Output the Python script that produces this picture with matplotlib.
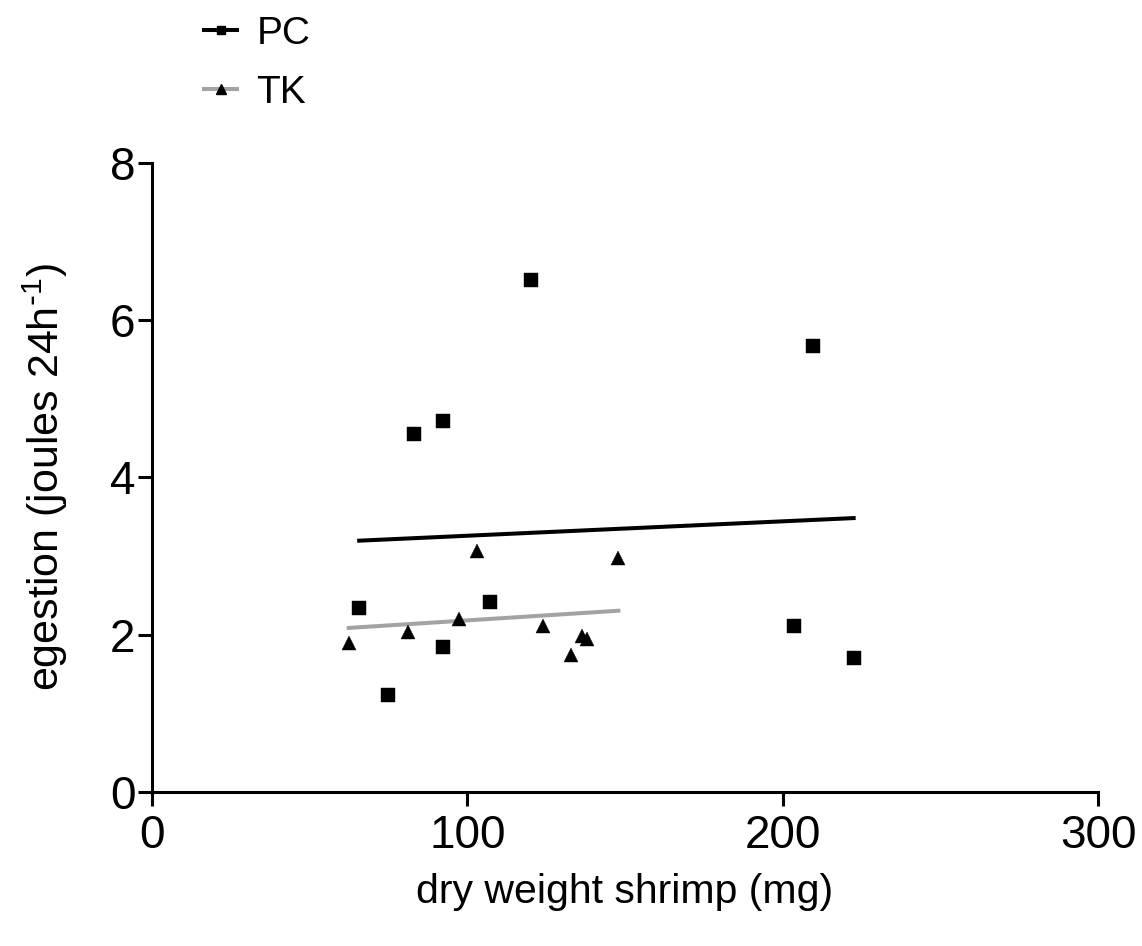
import matplotlib
matplotlib.use("Agg")
import matplotlib.pyplot as plt
import numpy as np

plt.rcParams['font.family'] = ['Liberation Sans', 'DejaVu Sans']
plt.rcParams['mathtext.default'] = 'regular'

# values
pc_x = [92.2, 83.2, 65.7, 107.1, 92.4, 74.9, 203.7, 222.5, 120.2, 209.7]
pc_y = [4.72, 4.55, 2.34, 2.42, 1.84, 1.23, 2.11, 1.70, 6.51, 5.67]

tk_x = [62.4, 81.1, 97.3, 103.1, 123.9, 136.4, 138.1, 133.0, 147.9]
tk_y = [1.90, 2.03, 2.20, 3.07, 2.11, 1.99, 1.94, 1.74, 2.98]

x_ticks = [0, 100, 200, 300]
y_ticks = [0, 2, 4, 6, 8]


def fit_line(xs, ys):
    # linear regression over the data range
    k, b = np.polyfit(xs, ys, 1)
    xx = np.array([min(xs), max(xs)])
    return xx, k * xx + b


fig = plt.figure(figsize=(11.42, 9.46), dpi=100)
ax = fig.add_axes([0.1331, 0.1628, 0.8284, 0.6649])

lx, ly = fit_line(pc_x, pc_y)
ax.plot(lx, ly, color='black', lw=2.9, zorder=2)
lx, ly = fit_line(tk_x, tk_y)
ax.plot(lx, ly, color='#a3a3a3', lw=2.9, zorder=2)

ax.plot(pc_x, pc_y, ls='none', marker='s', ms=9.6, mec='black', mfc='black',
        mew=0.3, zorder=3)
ax.plot(tk_x, tk_y, ls='none', marker='^', ms=9.8, mec='black', mfc='black',
        mew=0.3, zorder=3)

# legend handles: line + marker
h_pc, = ax.plot([], [], color='black', lw=2.9, marker='s', ms=6, mfc='black', mec='black')
h_tk, = ax.plot([], [], color='#a3a3a3', lw=2.9, marker='^', ms=6.5, mfc='black', mec='black')
fig.legend([h_pc, h_tk], ['PC', 'TK'], loc='upper left',
           bbox_to_anchor=(0.165, 1.0), frameon=False, fontsize=28,
           handlelength=0.85, handletextpad=0.5, labelspacing=0.6,
           borderaxespad=0.0)

ax.set_xlim(0, 300)
ax.set_ylim(0, 8)
ax.set_xticks(x_ticks)
ax.set_yticks(y_ticks)

for s in ['top', 'right']:
    ax.spines[s].set_visible(False)
for s in ['left', 'bottom']:
    ax.spines[s].set_linewidth(2.2)

ax.tick_params(axis='both', width=2.2, length=10, labelsize=33, direction='out')
ax.tick_params(axis='x', pad=6)
ax.tick_params(axis='y', pad=2)

ax.set_xlabel('dry weight shrimp (mg)', fontsize=29.5, labelpad=11)
ax.set_ylabel(r'egestion (joules 24h$^{\text{-}1}$)', fontsize=31, labelpad=29)

plt.savefig('out.png', dpi=100)
